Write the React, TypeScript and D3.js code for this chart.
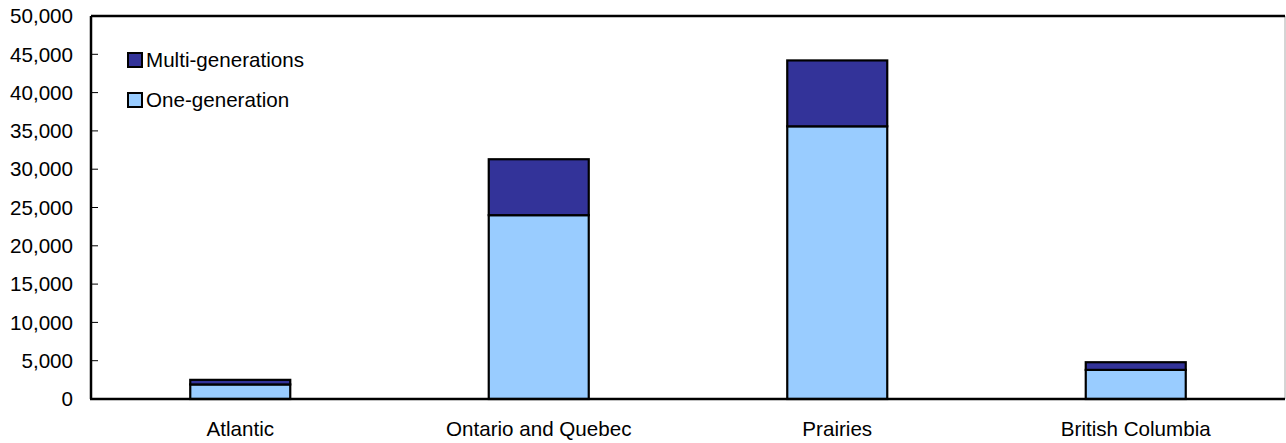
import React from "react";
import * as d3 from "d3";

const regions = ["Atlantic", "Ontario and Quebec", "Prairies", "British Columbia"];
const oneGeneration = [1900, 24000, 35600, 3800];
const multiGenerations = [600, 7300, 8600, 1000];
const seriesNames = ["One-generation", "Multi-generations"];
const seriesColors = ["#99CCFF", "#333399"];
const yTicks = [0, 5000, 10000, 15000, 20000, 25000, 30000, 35000, 40000, 45000, 50000];

const W = 1286;
const H = 443;
const M = { left: 91, right: 1285, top: 16, bottom: 399 };
const FONT = "'Liberation Sans', Arial, Helvetica, sans-serif";
const FS = 20.6;

export default function App() {
  const x = d3.scaleBand<string>().domain(regions).range([M.left, M.right]).paddingInner(0.665).paddingOuter(0.3325);
  const y = d3.scaleLinear().domain([0, 50000]).range([M.bottom, M.top]);

  const rows = regions.map((r, i) => ({ region: r, one: oneGeneration[i], multi: multiGenerations[i] }));
  const stacked = d3.stack<any>().keys(["one", "multi"])(rows);
  const fmt = d3.format(",");

  return (
    <svg width={W} height={H} style={{ position: "absolute", left: 0, top: 0, background: "#fff" }} fontFamily={FONT}>
      {/* frame */}
      <line x1={M.right} x2={M.right} y1={M.top} y2={M.bottom} stroke="#aaa" strokeWidth={1} />
      <line x1={M.left} x2={M.right} y1={M.top} y2={M.top} stroke="#000" strokeWidth={2.5} />

      {/* bars */}
      {stacked.map((layer, li) => (
        <g key={li}>
          {layer.map((d, i) => {
            const bx = x(regions[i])!;
            return (
              <rect
                key={i}
                x={bx}
                y={y(d[1])}
                width={x.bandwidth()}
                height={y(d[0]) - y(d[1])}
                fill={seriesColors[li]}
                stroke="#000"
                strokeWidth={2.2}
              />
            );
          })}
        </g>
      ))}

      {/* y axis */}
      <line x1={M.left} x2={M.left} y1={M.top} y2={M.bottom} stroke="#000" strokeWidth={2.5} />
      {yTicks.map((t) => (
        <g key={t}>
          <line x1={M.left} x2={M.left + 7} y1={y(t)} y2={y(t)} stroke="#000" strokeWidth={1} />
          <text x={73} y={y(t)} dy="0.35em" textAnchor="end" fontSize={FS} fill="#000">
            {fmt(t)}
          </text>
        </g>
      ))}

      {/* x axis */}
      <line x1={M.left - 1} x2={M.right} y1={M.bottom} y2={M.bottom} stroke="#000" strokeWidth={2.5} />
      {regions.map((r) => (
        <text key={r} x={x(r)! + x.bandwidth() / 2} y={436} textAnchor="middle" fontSize={FS} fill="#000">
          {r}
        </text>
      ))}

      {/* legend */}
      {[1, 0].map((si, k) => (
        <g key={si} transform={`translate(128, ${53 + k * 40})`}>
          <rect x={0} y={0} width={14} height={14} fill={seriesColors[si]} stroke="#000" strokeWidth={2} />
          <text x={18} y={7} dy="0.35em" fontSize={FS} fill="#000">
            {seriesNames[si]}
          </text>
        </g>
      ))}
    </svg>
  );
}
